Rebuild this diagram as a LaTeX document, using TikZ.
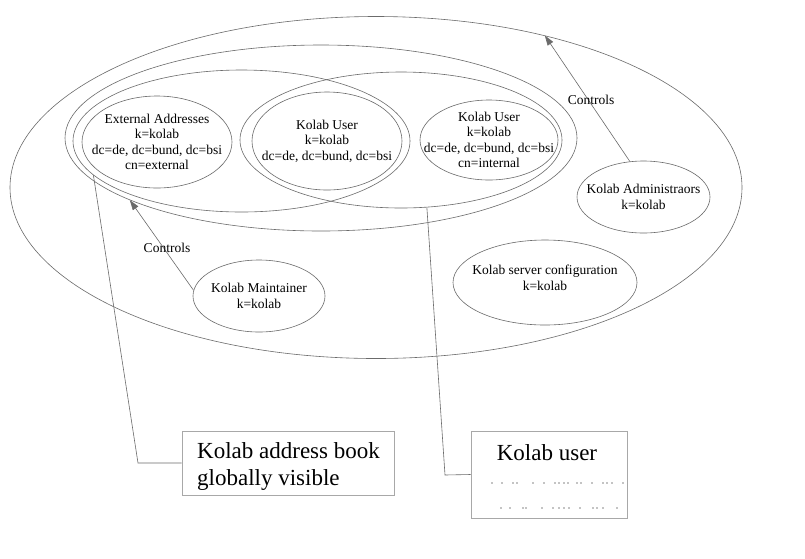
\documentclass[tikz,border=0pt]{standalone}
\usepackage{fontspec}
\setmainfont{Liberation Serif}
\usetikzlibrary{shapes.geometric,arrows.meta}
\definecolor{lineg}{gray}{0.42}
\definecolor{boxg}{gray}{0.66}
\tikzset{
  ell/.style={ellipse, draw=lineg, line width=0.6pt, inner sep=0pt},
  txt/.style={font=\fontsize{13.5}{15.5}\selectfont, align=center, inner sep=0pt},
  bigtxt/.style={font=\fontsize{23}{27}\selectfont, inner sep=0pt},
  conn/.style={draw=lineg, line width=0.6pt},
  ctrl/.style={conn, -{Triangle[length=10pt,width=6.5pt]}},
  boxnode/.style={rectangle, draw=boxg, line width=0.8pt, inner sep=0pt},
}
\begin{document}
\begin{tikzpicture}[x=1pt,y=-1pt]
\useasboundingbox (0,0) rectangle (805,558);
\fill[white] (0,0) rectangle (805,558);

% big ellipses
\node[ell, minimum width=732, minimum height=342] (O) at (376,187.5) {};
\node[ell, minimum width=512, minimum height=186] (D) at (321,138) {};
\node[ell, minimum width=337, minimum height=142] (A) at (241.5,141) {};
\node[ell, minimum width=322, minimum height=136] (B) at (401,140) {};

% inner ellipses
\node[ell, minimum width=150, minimum height=92] (ext) at (157,142) {};
\node[txt] (extT) at (ext.center) {External Addresses\\k=kolab\\dc=de, dc=bund, dc=bsi\\cn=external};

\node[ell, minimum width=150, minimum height=98] (mku) at (327,141) {};
\node[txt] (mkuT) at (mku.center) {Kolab User\\k=kolab\\dc=de, dc=bund, dc=bsi};

\node[ell, minimum width=138, minimum height=80] (rku) at (489,140) {};
\node[txt] (rkuT) at (rku.center) {Kolab User\\k=kolab\\dc=de, dc=bund, dc=bsi\\cn=internal};

\node[ell, minimum width=133, minimum height=72] (admin) at (643.5,197) {};
\node[txt] (adminT) at (admin.center) {Kolab Administraors\\k=kolab};

\node[ell, minimum width=184, minimum height=85] (srv) at (545,282.5) {};
\node[txt] (srvT) at (545,278) {Kolab server configuration\\k=kolab};

\node[ell, minimum width=132, minimum height=72] (mnt) at (259,296) {};
\node[txt] (mntT) at (mnt.center) {Kolab Maintainer\\k=kolab};

% controls arrows
\draw[ctrl] (mnt.175) -- (D.198.7);
\node[txt] (c1) at (167,248) {Controls};
\draw[ctrl] (admin.111) -- (O.42.8);
\node[txt] (c2) at (591,100) {Controls};

% boxes
\node[boxnode, minimum width=212, minimum height=64] (addrbox) at (288,463) {};
\node[bigtxt, anchor=west, align=left] (addrT) at (197,466) {Kolab address book\\globally visible};
\node[boxnode, minimum width=156, minimum height=87] (kubox) at (549,474.5) {};
\node[bigtxt] (kuT) at (547,453) {Kolab user};

\foreach \x in {492,502,513,517,533,544,555,559,564,568,577,581,592,603,607,612,623}
  \fill (\x,483) circle (0.7pt);
\foreach \x in {501,510,523,526,542,553,559,564,569,580,593,597,603,617}
  \fill (\x,508) circle (0.7pt);

% callout connectors
\coordinate (bendA) at (138,463);
\coordinate (bendB) at (445,475);
\draw[conn] (addrbox.west) -- (bendA) -- (A.193);
\draw[conn] (kubox.west) -- (bendB) -- (B.291.7);
\end{tikzpicture}
\end{document}
